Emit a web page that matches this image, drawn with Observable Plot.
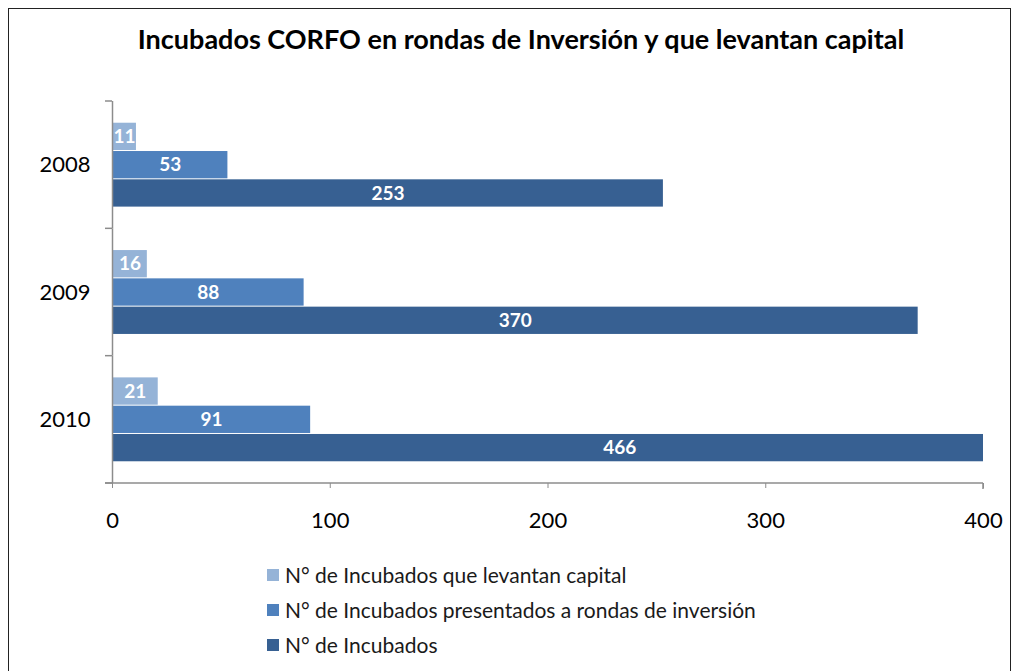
<!DOCTYPE html>
<html>
<head>
<meta charset="utf-8">
<script src="https://cdn.jsdelivr.net/npm/d3@7"></script>
<script src="https://cdn.jsdelivr.net/npm/@observablehq/plot@0.6"></script>
<style>
  html, body { margin:0; padding:0; background:#fff; }
  body { width:1021px; height:671px; position:relative; overflow:hidden; font-family: Lato, "Open Sans", sans-serif; }
  #frame { position:absolute; left:8px; top:8px; width:1003px; height:700px; border:1.5px solid #222; box-sizing:border-box; }
  #title { position:absolute; left:21px; width:1000px; top:24px; text-align:center; font-weight:bold; font-size:27px; line-height:30px; color:#000; z-index:2; }
  #chart { position:absolute; left:0; top:0; }
  #legend { position:absolute; left:267px; top:557px; z-index:2; }
  .li { display:flex; align-items:center; height:35px; font-size:21px; color:#1a1a1a; }
  .sw { width:12px; height:12px; margin-right:6px; }
</style>
</head>
<body>
<div id="frame"></div>
<div id="chart"></div>
<div id="title"></div>
<div id="legend"></div>
<script>
const titleText = "Incubados CORFO en rondas de Inversión y que levantan capital";
const years = ["2008", "2009", "2010"];
const seriesNames = [
  "N° de Incubados que levantan capital",
  "N° de Incubados presentados a rondas de inversión",
  "N° de Incubados"
];
const seriesColors = ["#95B3D7", "#4F81BD", "#376092"];
const levantanCapital = [11, 16, 21];
const presentados = [53, 88, 91];
const incubados = [253, 370, 466];
const xTicks = [0, 100, 200, 300, 400];
const xDomain = [0, 400];

const seriesValues = [levantanCapital, presentados, incubados];
const data = [];
years.forEach((yr, i) => {
  seriesNames.forEach((s, j) => data.push({year: yr, series: s, value: seriesValues[j][i]}));
});

document.getElementById("title").textContent = titleText;
const legend = document.getElementById("legend");
seriesNames.forEach((s, j) => {
  const row = document.createElement("div");
  row.className = "li";
  const sw = document.createElement("div");
  sw.className = "sw";
  sw.style.background = seriesColors[j];
  const t = document.createElement("span");
  t.textContent = s;
  row.appendChild(sw); row.appendChild(t);
  legend.appendChild(row);
});

const chart = Plot.plot({
  width: 1021,
  height: 671,
  marginLeft: 112,
  marginRight: 38,
  marginTop: 101,
  marginBottom: 188,
  style: {fontFamily: "Lato, 'Open Sans', sans-serif", background: "transparent", overflow: "visible"},
  x: {domain: xDomain, clamp: true},
  y: {domain: seriesNames, paddingInner: 0, paddingOuter: 0.75, axis: null, round: false},
  fy: {domain: years, padding: 0, round: false},
  color: {domain: seriesNames, range: seriesColors},
  marks: [
    Plot.barX(data, {x: "value", y: "series", fy: "year", fill: "series", insetTop: 0.5, insetBottom: 0.5}),
    Plot.text(data, {x: d => d.value / 2, y: "series", fy: "year", text: d => String(d.value),
      fill: "white", fontWeight: "bold", fontSize: 19}),
    Plot.ruleX([0], {stroke: "#8c8c8c", strokeWidth: 1.5}),
    Plot.axisX({ticks: xTicks, tickSize: 5, tickPadding: 24, fontSize: 22, label: null,
      stroke: "#8c8c8c", fill: "#000", tickFormat: d => String(d)}),
    Plot.axisFy({anchor: "left", tickSize: 0, tickPadding: 22, fontSize: 22, label: null, fill: "#000"})
  ]
});
document.getElementById("chart").appendChild(chart);

// axis baseline and category boundary ticks derived from scales
const xs = chart.scale("x");
const fys = chart.scale("fy");
const svg = d3.select(chart);
const x0 = xs.apply(0);
const x1 = xs.apply(xDomain[1]);
const bounds = years.map(y => fys.apply(y));
const bottom = fys.apply(years[years.length - 1]) + fys.bandwidth;
bounds.push(bottom);
const g = svg.append("g").attr("stroke", "#8c8c8c").attr("stroke-width", 1.5);
g.append("line").attr("x1", x0 - 7).attr("x2", x1).attr("y1", bottom).attr("y2", bottom);
g.append("line").attr("x1", x1).attr("x2", x1).attr("y1", bottom).attr("y2", bottom + 6);
bounds.forEach(b => {
  g.append("line").attr("x1", x0 - 7).attr("x2", x0).attr("y1", b).attr("y2", b);
});
</script>
</body>
</html>
